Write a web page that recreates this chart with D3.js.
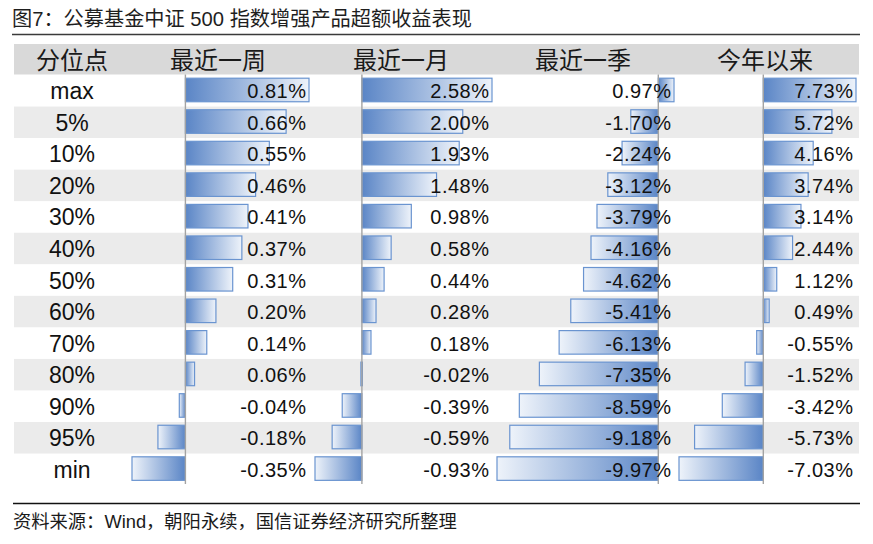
<!DOCTYPE html>
<html>
<head>
<meta charset="utf-8">
<script src="https://cdn.jsdelivr.net/npm/d3@7"></script>
<style>
  html, body { margin: 0; padding: 0; background: #fff; }
  svg { display: block; }
</style>
</head>
<body>
<div id="chart"></div>
<script>
// ---------- data ----------
const titleText = "图7：公募基金中证 500 指数增强产品超额收益表现";
const sourceText = "资料来源：Wind，朝阳永续，国信证券经济研究所整理";
const headerLabels = ["分位点", "最近一周", "最近一月", "最近一季", "今年以来"];
const rowLabels = ["max", "5%", "10%", "20%", "30%", "40%", "50%", "60%", "70%", "80%", "90%", "95%", "min"];
const weekValues    = [0.81, 0.66, 0.55, 0.46, 0.41, 0.37, 0.31, 0.20, 0.14, 0.06, -0.04, -0.18, -0.35];
const monthValues   = [2.58, 2.00, 1.93, 1.48, 0.98, 0.58, 0.44, 0.28, 0.18, -0.02, -0.39, -0.59, -0.93];
const quarterValues = [0.97, -1.70, -2.24, -3.12, -3.79, -4.16, -4.62, -5.41, -6.13, -7.35, -8.59, -9.18, -9.97];
const ytdValues     = [7.73, 5.72, 4.16, 3.74, 3.14, 2.44, 1.12, 0.49, -0.55, -1.52, -3.42, -5.73, -7.03];
const seriesList = [weekValues, monthValues, quarterValues, ytdValues];

// ---------- layout ----------
const W = 873, H = 544;
const tableLeft = 14, tableRight = 859;
const headerTop = 44, headerBottom = 74.5;
const rowsTop = 75, rowH = 31.55;
const colLefts = [129, 312, 494, 676];
const latin = "'Liberation Sans', Arial, 'Noto Sans CJK SC', sans-serif";
const cjk = "'Noto Sans CJK SC', 'Liberation Sans', sans-serif";

const svg = d3.select("#chart").append("svg")
  .attr("width", W).attr("height", H)
  .style("background", "#fff");

const defs = svg.append("defs");
function grad(id, x1, x2) {
  const g = defs.append("linearGradient").attr("id", id)
    .attr("x1", x1).attr("x2", x2).attr("y1", 0).attr("y2", 0);
  g.append("stop").attr("offset", "0%").attr("stop-color", "#5a85c6");
  g.append("stop").attr("offset", "100%").attr("stop-color", "#eef3fa");
}
grad("gpos", 0, 1);
grad("gneg", 1, 0);

// title
svg.append("text")
  .attr("x", 12).attr("y", 26)
  .attr("font-family", latin).attr("font-size", 20.2).attr("fill", "#1e1e1e")
  .text(titleText);
svg.append("line")
  .attr("x1", 12).attr("x2", 860).attr("y1", 34.5).attr("y2", 34.5)
  .attr("stroke", "#3a3a3a").attr("stroke-width", 1.6);

// header
svg.append("rect")
  .attr("x", tableLeft).attr("y", headerTop)
  .attr("width", tableRight - tableLeft).attr("height", headerBottom - headerTop)
  .attr("fill", "#d9d9d9");
const headerX = [72].concat(colLefts.map(l => l + 89));
svg.selectAll("text.hdr").data(headerLabels).enter().append("text")
  .attr("class", "hdr")
  .attr("x", (d, i) => headerX[i]).attr("y", 68.5)
  .attr("text-anchor", "middle")
  .attr("font-family", cjk).attr("font-size", 24).attr("fill", "#1a1a1a")
  .text(d => d);

// rows
const y = d3.scaleBand().domain(rowLabels)
  .range([rowsTop, rowsTop + rowH * rowLabels.length]).padding(0);

svg.selectAll("rect.rowbg").data(rowLabels).enter().append("rect")
  .attr("class", "rowbg")
  .attr("x", tableLeft).attr("y", d => y(d))
  .attr("width", tableRight - tableLeft).attr("height", y.bandwidth() + 0.3)
  .attr("fill", (d, i) => i % 2 === 1 ? "#ebebeb" : "#ffffff");

svg.selectAll("text.rowlab").data(rowLabels).enter().append("text")
  .attr("class", "rowlab")
  .attr("x", 72).attr("y", d => y(d) + y.bandwidth() / 2 + 8.5)
  .attr("text-anchor", "middle")
  .attr("font-family", latin).attr("font-size", 23).attr("fill", "#111")
  .text(d => d);

// columns of data bars
seriesList.forEach((vals, ci) => {
  const left = colLefts[ci];
  const x = d3.scaleLinear()
    .domain([Math.min(0, d3.min(vals)), Math.max(0, d3.max(vals))])
    .range([left + 3, left + 180]);
  const g = svg.append("g");
  const data = vals.map((v, i) => ({ v, label: rowLabels[i] }));

  g.selectAll("rect").data(data).enter().append("rect")
    .attr("x", d => Math.min(x(0), x(d.v)))
    .attr("y", d => y(d.label) + 3.2)
    .attr("width", d => Math.max(Math.abs(x(d.v) - x(0)), 1.5))
    .attr("height", y.bandwidth() - 8)
    .attr("fill", d => d.v >= 0 ? "url(#gpos)" : "url(#gneg)")
    .attr("stroke", "#6a94d0").attr("stroke-width", 1.2);

  g.append("line")
    .attr("x1", x(0)).attr("x2", x(0))
    .attr("y1", headerBottom).attr("y2", 484)
    .attr("stroke", "#a3a3a3").attr("stroke-width", 1.4);

  g.selectAll("text").data(data).enter().append("text")
    .attr("x", left + 177.5)
    .attr("y", d => y(d.label) + y.bandwidth() / 2 + 7.5)
    .attr("text-anchor", "end")
    .attr("font-family", latin).attr("font-size", 20)
    .attr("letter-spacing", "0.5px")
    .attr("fill", "#111")
    .text(d => d.v.toFixed(2) + "%");
});

// footer
svg.append("line")
  .attr("x1", 13).attr("x2", 860).attr("y1", 503.5).attr("y2", 503.5)
  .attr("stroke", "#111").attr("stroke-width", 1.3);
svg.append("text")
  .attr("x", 13).attr("y", 528)
  .attr("font-family", latin).attr("font-size", 18.3).attr("fill", "#1a1a1a")
  .text(sourceText);
</script>
</body>
</html>
